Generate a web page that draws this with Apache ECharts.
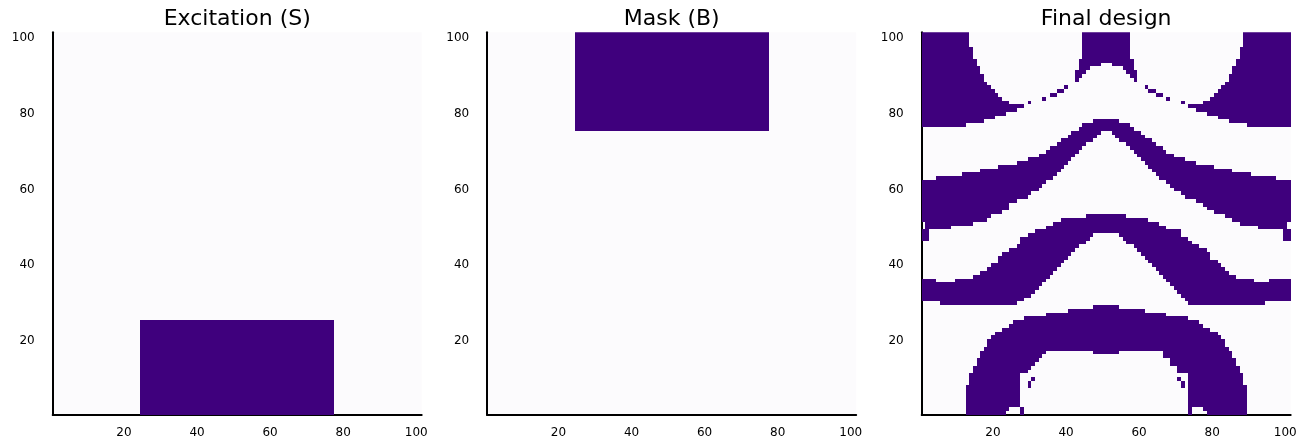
<!DOCTYPE html>
<html>
<head>
<meta charset="utf-8">
<script src="https://cdn.jsdelivr.net/npm/echarts@6/dist/echarts.min.js"></script>
<style>
html,body{margin:0;padding:0;background:#fff;}
#c{width:1309px;height:443px;}
</style>
</head>
<body>
<div id="c"></div>
<script>
// ---- data (cell index ranges on a 101 x 101 grid: [xFrom, xTo, yFrom, yTo], inclusive) ----
const titles = ['Excitation (S)', 'Mask (B)', 'Final design'];
const tickValues = [20, 40, 60, 80, 100];
const gridSize = 101;

const excitationCells = [[25, 77, 1, 25]];
const maskCells = [[25, 77, 76, 101]];

const topLeftBlob = [
  [1,13,98,101],[1,14,95,97],[1,15,93,94],[1,16,91,92],[1,17,89,90],[1,18,88,88],
  [1,19,87,87],[1,20,86,86],[1,21,85,85],[1,22,84,84],[1,24,83,83],[1,28,82,82],
  [1,26,81,81],[1,23,80,80],[1,20,79,79],[1,17,78,78],[1,12,77,77]
];
const topRightBlob = [
  [89,101,98,101],[88,101,95,97],[87,101,93,94],[86,101,91,92],[85,101,89,90],[84,101,88,88],
  [83,101,87,87],[82,101,86,86],[81,101,85,85],[80,101,84,84],[78,101,83,83],[74,101,82,82],
  [76,101,81,81],[79,101,80,80],[82,101,79,79],[85,101,78,78],[90,101,77,77]
];
const topCenter = [
  [45,57,95,101],[44,58,94,94],[44,49,93,93],[53,58,93,93],[44,46,92,92],[56,58,92,92],
  [43,45,91,91],[57,59,91,91],[43,44,90,90],[58,59,90,90],[43,43,89,89],[59,59,89,89]
];
const topDots = [
  [40,40,87,87],[62,62,87,87],[38,39,86,86],[63,64,86,86],[36,37,85,85],[65,66,85,85],
  [34,34,84,84],[68,68,84,84],[30,30,83,83],[72,72,83,83]
];
const upperBand = [
  [1,1,52,62],[1,1,47,49],[2,2,47,62],[3,4,50,62],[5,8,50,63],[9,11,51,63],[12,14,51,64],
  [15,16,52,64],[17,18,52,65],[19,19,53,65],[20,21,54,65],[22,22,54,66],[23,24,55,66],
  [25,26,57,66],[27,27,58,67],[28,29,58,67],[30,30,59,68],[31,32,60,68],[33,33,61,69],
  [34,34,62,69],[35,35,63,70],[36,36,63,71],[37,37,64,71],[38,38,65,72],[39,39,66,73],
  [40,40,67,73],[41,41,68,74],[42,42,69,75],[43,43,70,75],[44,44,71,76],[45,45,72,77],
  [46,47,73,77],[48,48,74,78],[49,49,75,78],[50,52,76,78],
  [53,53,75,78],[54,54,74,78],[55,56,73,77],[57,57,72,77],[58,58,71,76],[59,59,70,75],
  [60,60,69,75],[61,61,68,74],[62,62,67,73],[63,63,66,73],[64,64,65,72],[65,65,64,71],
  [66,66,63,71],[67,67,63,70],[68,68,62,69],[69,69,61,69],[70,71,60,68],[72,72,59,68],
  [73,73,58,67],[74,75,58,67],[76,77,57,66],[78,78,56,66],[79,80,55,66],[81,83,54,65],
  [84,85,53,65],[86,87,52,64],[88,90,51,64],[91,92,51,63],[93,97,50,63],[98,99,50,62],
  [100,100,47,62],[101,101,52,62],[101,101,47,49]
];
const middleBand = [
  [1,4,31,36],[5,5,31,35],[6,9,30,35],[10,14,30,36],[15,16,30,37],[17,18,30,38],
  [19,19,30,39],[20,21,30,40],[22,22,30,42],[23,24,30,43],[25,26,30,44],[27,27,31,45],
  [28,28,31,47],[29,29,32,47],[30,30,32,48],[31,31,33,48],[32,32,34,49],[33,33,35,49],
  [34,34,36,49],[35,35,37,50],[36,36,38,50],[37,37,39,51],[38,38,40,51],[39,39,41,52],
  [40,40,42,52],[41,41,43,52],[42,42,44,52],[43,43,45,52],[44,45,46,52],[46,46,47,53],
  [47,47,48,53],[48,54,49,53],
  [55,55,48,53],[56,56,47,53],[57,58,46,52],[59,59,45,52],[60,60,44,52],[61,61,43,52],
  [62,62,42,52],[63,63,41,51],[64,64,40,51],[65,65,39,51],[66,66,38,50],[67,67,37,50],
  [68,68,36,49],[69,69,35,49],[70,70,34,49],[71,71,33,49],[72,72,32,47],[73,73,31,47],
  [74,74,30,46],[75,76,30,45],[77,78,30,44],[79,79,30,43],[80,81,30,41],[82,82,30,40],
  [83,83,30,39],[84,84,30,38],[85,86,30,37],[87,91,30,36],[92,94,30,35],[95,95,31,35],
  [96,101,31,36]
];
const lowerRing = [
  [13,23,1,1],[28,28,1,1],[74,74,1,1],[79,89,1,1],
  [13,24,2,2],[28,28,2,2],[74,74,2,2],[78,89,2,2],
  [13,27,3,8],[74,89,3,8],
  [30,30,8,9],[72,72,8,9],[31,31,10,10],[71,71,10,10],
  [14,27,9,11],[74,88,9,11],
  [15,29,12,12],[71,87,12,12],
  [15,30,13,13],[71,87,13,13],
  [16,31,14,14],[69,86,14,14],
  [16,32,15,15],[69,86,15,15],
  [17,33,16,16],[67,85,16,16],
  [17,34,17,17],[48,54,17,17],[67,85,17,17],
  [18,84,18,18],[19,83,19,20],[20,82,21,21],[21,81,22,22],[23,79,23,23],[25,77,24,24],
  [26,76,25,25],[29,73,26,26],[35,67,27,27],[41,61,28,28],[48,54,29,29]
];

const finalDesignCells = [].concat(topLeftBlob, topRightBlob, topCenter, topDots,
  upperBand, middleBand, lowerRing);

// ---- chart ----
const HIGH = '#3f007d', LOW = '#fcfbfd';
const panelLefts = [52.7, 487.2, 921.7];
const panelW = 369, panelTop = 32.3, panelH = 382.7;
const font = '"DejaVu Sans", "Liberation Sans", sans-serif';

function renderCell(params, api) {
  const p0 = api.coord([api.value(0) - 0.5, api.value(3) + 0.5]);
  const p1 = api.coord([api.value(1) + 0.5, api.value(2) - 0.5]);
  const x0 = Math.round(p0[0]), y0 = Math.round(p0[1]);
  const x1 = Math.round(p1[0]), y1 = Math.round(p1[1]);
  return {
    type: 'rect',
    shape: { x: x0, y: y0, width: x1 - x0, height: y1 - y0 },
    style: { fill: HIGH }
  };
}

const datasets = [excitationCells, maskCells, finalDesignCells];
const grid = [], xAxis = [], yAxis = [], series = [], graphic = [];
panelLefts.forEach((l, i) => {
  grid.push({ left: l, top: panelTop, width: panelW, height: panelH, show: true,
    backgroundColor: LOW, borderWidth: 0, containLabel: false });
  xAxis.push({ type: 'value', gridIndex: i, min: 0.5, max: gridSize + 0.5,
    axisLine: { show: true, onZero: false, lineStyle: { color: '#000', width: 2 } },
    axisTick: { show: false }, splitLine: { show: false },
    axisLabel: { customValues: tickValues, color: '#000', fontSize: 12, fontFamily: font, margin: 12 } });
  yAxis.push({ type: 'value', gridIndex: i, min: 0.5, max: gridSize + 0.5,
    axisLine: { show: true, onZero: false, lineStyle: { color: '#000', width: 2 } },
    axisTick: { show: false }, splitLine: { show: false },
    axisLabel: { customValues: tickValues, color: '#000', fontSize: 12, fontFamily: font, margin: 18 } });
  series.push({ type: 'custom', xAxisIndex: i, yAxisIndex: i, renderItem: renderCell,
    encode: { x: [0, 1], y: [2, 3] }, data: datasets[i], silent: true, animation: false, clip: true });
  graphic.push({ type: 'text', x: l + panelW / 2, y: 19,
    style: { text: titles[i], fill: '#000', font: '22px ' + font, align: 'center', verticalAlign: 'middle' } });
});

const chart = echarts.init(document.getElementById('c'), null, { renderer: 'canvas' });
chart.setOption({ animation: false, backgroundColor: '#fff', grid, xAxis, yAxis, series, graphic });
</script>
</body>
</html>
